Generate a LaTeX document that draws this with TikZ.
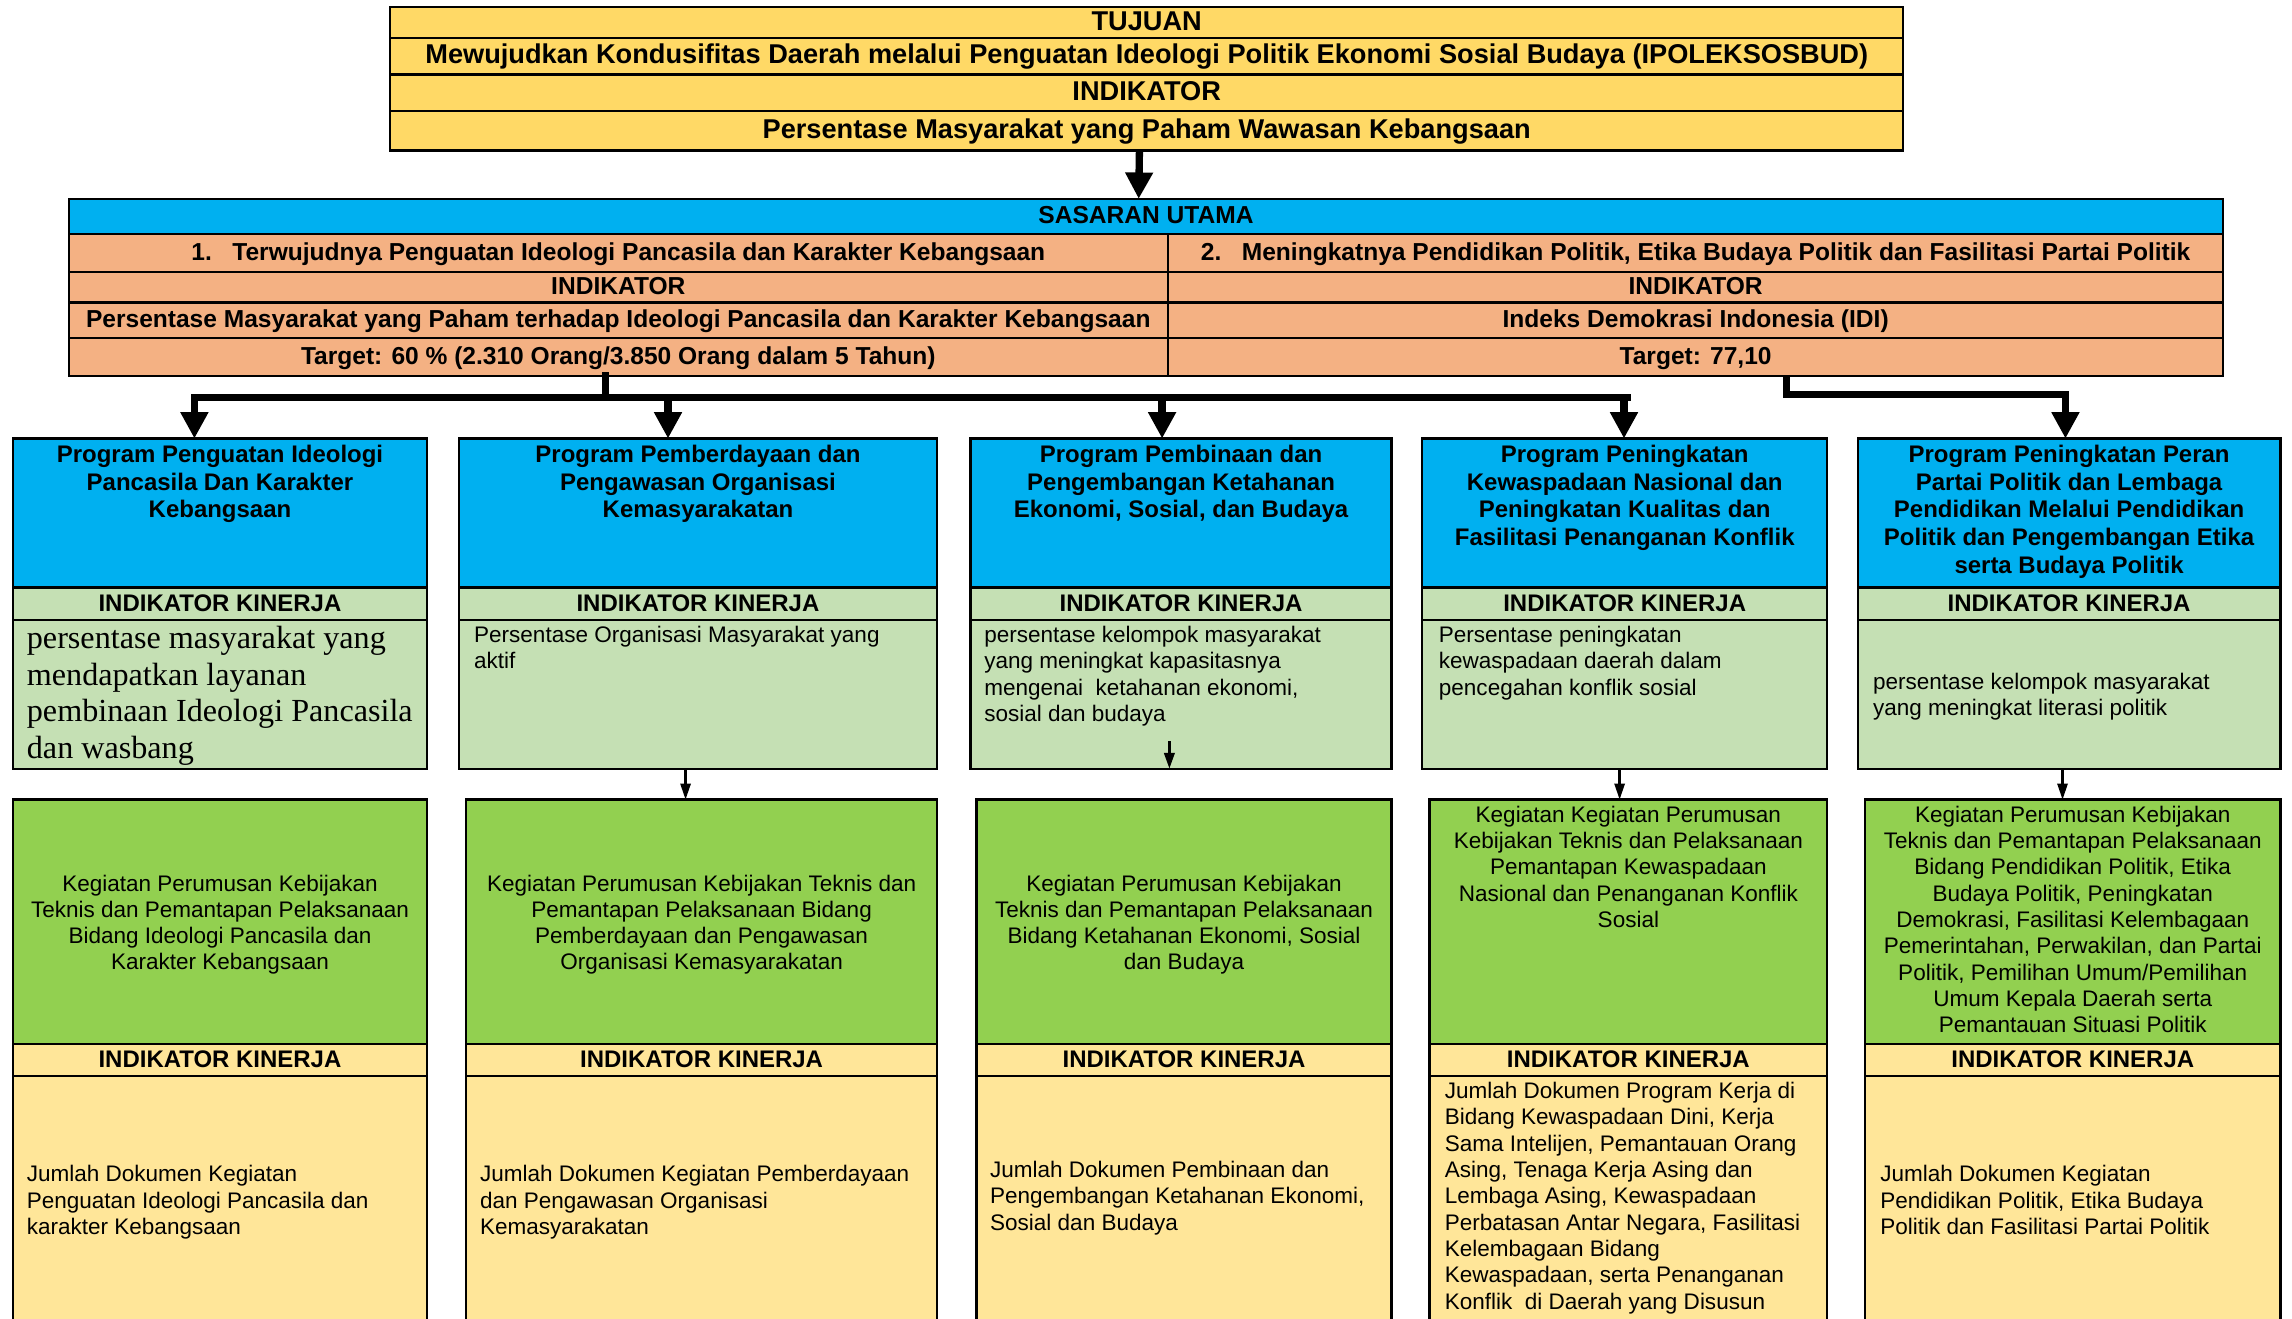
\documentclass[tikz,border=0pt]{standalone}
\usepackage{fontspec}
\setmainfont{Liberation Sans}
\newfontfamily\serifrm{Liberation Serif}
\usetikzlibrary{arrows.meta}
\definecolor{topY}{HTML}{FFD966}
\definecolor{skyB}{HTML}{00B0F0}
\definecolor{orgL}{HTML}{F4B183}
\definecolor{grnL}{HTML}{C5E0B4}
\definecolor{grnK}{HTML}{92D050}
\definecolor{yelL}{HTML}{FFE699}
\newcommand\bx[7]{\node[cell,#6, minimum width={(#4-#2)*0.5pt}, minimum height={(#5-#3)*0.5pt}, anchor=north west] (#1) at (#2,#3) {#7};}
\tikzset{
  cell/.style={draw=black, line width=0.8pt, inner sep=0pt, outer sep=0pt, text height=0.72em, text depth=0.2em},
  topf/.style={font={\fontsize{9.3}{11}\selectfont\bfseries}},
  sasf/.style={font={\fontsize{8.4}{9.5}\selectfont\bfseries}},
  hdrf/.style={font={\fontsize{8.2}{9.5}\selectfont\bfseries}},
  ttl/.style={font={\fontsize{8.2}{9.5}\selectfont\bfseries}, align=center, inner sep=0pt},
  bodyc/.style={font={\fontsize{7.7}{9}\selectfont}, align=center, inner sep=0pt},
  bodyl/.style={font={\fontsize{7.7}{9}\selectfont}, align=left, inner sep=0pt},
  serl/.style={font={\fontsize{11}{12.5}\selectfont\serifrm}, align=left, inner sep=0pt},
  bar/.style={line width=2.5pt, line cap=rect},
  bigarr/.style={line width=2.5pt, -{Triangle[width=9pt,length=9pt]}},
  smallarr/.style={line width=0.8pt, -{Triangle[width=3.5pt,length=5.5pt]}}
}
\begin{document}
\begin{tikzpicture}[x=0.5pt,y=-0.5pt]
\useasboundingbox (0,0) rectangle (1568,902);
% top box
\bx{t1}{267}{5}{1302}{26}{fill=topY,topf}{TUJUAN}
\bx{t2}{267}{26}{1302}{51}{fill=topY,topf}{Mewujudkan Kondusifitas Daerah melalui Penguatan Ideologi Politik Ekonomi Sosial Budaya (IPOLEKSOSBUD)}
\bx{t3}{267}{51}{1302}{76}{fill=topY,topf}{INDIKATOR}
\bx{t4}{267}{76}{1302}{103}{fill=topY,topf}{Persentase Masyarakat yang Paham Wawasan Kebangsaan}
% sasaran
\bx{sh}{47}{136}{1521}{160}{fill=skyB,sasf}{SASARAN UTAMA}
\bx{s1}{47}{160}{799}{186}{fill=orgL,sasf}{1.\ \ \ Terwujudnya Penguatan Ideologi Pancasila dan Karakter Kebangsaan}
\bx{s2}{799}{160}{1521}{186}{fill=orgL,sasf}{2.\ \ \ Meningkatnya Pendidikan Politik, Etika Budaya Politik dan Fasilitasi Partai Politik}
\bx{si1}{47}{186}{799}{207}{fill=orgL,sasf}{INDIKATOR}
\bx{si2}{799}{186}{1521}{207}{fill=orgL,sasf}{INDIKATOR}
\bx{sv1}{47}{207}{799}{231}{fill=orgL,sasf}{Persentase Masyarakat yang Paham terhadap Ideologi Pancasila dan Karakter Kebangsaan}
\bx{sv2}{799}{207}{1521}{231}{fill=orgL,sasf}{Indeks Demokrasi Indonesia (IDI)}
\bx{st1}{47}{231}{799}{257}{fill=orgL,sasf}{Target: 60 \% (2.310 Orang/3.850 Orang dalam 5 Tahun)}
\bx{st2}{799}{231}{1521}{257}{fill=orgL,sasf}{Target: 77,10}
% program boxes
\bx{p1}{9}{300}{292}{402}{fill=skyB}{}
\bx{p2}{314}{300}{641}{402}{fill=skyB}{}
\bx{p3}{664}{300}{952}{402}{fill=skyB}{}
\bx{p4}{973}{300}{1250}{402}{fill=skyB}{}
\bx{p5}{1271}{300}{1560}{402}{fill=skyB}{}
\bx{h1}{9}{402}{292}{424}{fill=grnL,hdrf}{INDIKATOR KINERJA}
\bx{h2}{314}{402}{641}{424}{fill=grnL,hdrf}{INDIKATOR KINERJA}
\bx{h3}{664}{402}{952}{424}{fill=grnL,hdrf}{INDIKATOR KINERJA}
\bx{h4}{973}{402}{1250}{424}{fill=grnL,hdrf}{INDIKATOR KINERJA}
\bx{h5}{1271}{402}{1560}{424}{fill=grnL,hdrf}{INDIKATOR KINERJA}
\bx{i1}{9}{424}{292}{526}{fill=grnL}{}
\bx{i2}{314}{424}{641}{526}{fill=grnL}{}
\bx{i3}{664}{424}{952}{526}{fill=grnL}{}
\bx{i4}{973}{424}{1250}{526}{fill=grnL}{}
\bx{i5}{1271}{424}{1560}{526}{fill=grnL}{}
% kegiatan boxes
\bx{k1}{9}{547}{292}{714}{fill=grnK}{}
\bx{k2}{319}{547}{641}{714}{fill=grnK}{}
\bx{k3}{668}{547}{952}{714}{fill=grnK}{}
\bx{k4}{978}{547}{1250}{714}{fill=grnK}{}
\bx{k5}{1276}{547}{1560}{714}{fill=grnK}{}
\bx{g1}{9}{714}{292}{736}{fill=yelL,hdrf}{INDIKATOR KINERJA}
\bx{g2}{319}{714}{641}{736}{fill=yelL,hdrf}{INDIKATOR KINERJA}
\bx{g3}{668}{714}{952}{736}{fill=yelL,hdrf}{INDIKATOR KINERJA}
\bx{g4}{978}{714}{1250}{736}{fill=yelL,hdrf}{INDIKATOR KINERJA}
\bx{g5}{1276}{714}{1560}{736}{fill=yelL,hdrf}{INDIKATOR KINERJA}
\bx{j1}{9}{736}{292}{915}{fill=yelL}{}
\bx{j2}{319}{736}{641}{915}{fill=yelL}{}
\bx{j3}{668}{736}{952}{915}{fill=yelL}{}
\bx{j4}{978}{736}{1250}{915}{fill=yelL}{}
\bx{j5}{1276}{736}{1560}{915}{fill=yelL}{}
% program titles
\node[ttl, anchor=north] (pt1) at (150.5,304) {Program Penguatan Ideologi\\Pancasila Dan Karakter\\Kebangsaan};
\node[ttl, anchor=north] (pt2) at (477.5,304) {Program Pemberdayaan dan\\Pengawasan Organisasi\\Kemasyarakatan};
\node[ttl, anchor=north] (pt3) at (808,304) {Program Pembinaan dan\\Pengembangan Ketahanan\\Ekonomi, Sosial, dan Budaya};
\node[ttl, anchor=north] (pt4) at (1111.5,304) {Program Peningkatan\\Kewaspadaan Nasional dan\\Peningkatan Kualitas dan\\Fasilitasi Penanganan Konflik};
\node[ttl, anchor=north] (pt5) at (1415.5,304) {Program Peningkatan Peran\\Partai Politik dan Lembaga\\Pendidikan Melalui Pendidikan\\Politik dan Pengembangan Etika\\serta Budaya Politik};
% indicator texts
\node[serl, anchor=north west] (iv1) at (18,428) {persentase masyarakat yang\\mendapatkan layanan\\pembinaan Ideologi Pancasila\\dan wasbang};
\node[bodyl, anchor=north west] (iv2) at (324,428) {Persentase Organisasi Masyarakat yang\\aktif};
\node[bodyl, anchor=north west] (iv3) at (673,428) {persentase kelompok masyarakat\\yang meningkat kapasitasnya\\mengenai\ \ ketahanan ekonomi,\\sosial dan budaya};
\node[bodyl, anchor=north west] (iv4) at (984,428) {Persentase peningkatan\\kewaspadaan daerah dalam\\pencegahan konflik sosial};
\node[bodyl, anchor=north west] (iv5) at (1281,460) {persentase kelompok masyarakat\\yang meningkat literasi politik};
% kegiatan texts
\node[bodyc, anchor=north] (kt1) at (150.5,598) {Kegiatan Perumusan Kebijakan\\Teknis dan Pemantapan Pelaksanaan\\Bidang Ideologi Pancasila dan\\Karakter Kebangsaan};
\node[bodyc, anchor=north] (kt2) at (480,598) {Kegiatan Perumusan Kebijakan Teknis dan\\Pemantapan Pelaksanaan Bidang\\Pemberdayaan dan Pengawasan\\Organisasi Kemasyarakatan};
\node[bodyc, anchor=north] (kt3) at (810,598) {Kegiatan Perumusan Kebijakan\\Teknis dan Pemantapan Pelaksanaan\\Bidang Ketahanan Ekonomi, Sosial\\dan Budaya};
\node[bodyc, anchor=north] (kt4) at (1114,551) {Kegiatan Kegiatan Perumusan\\Kebijakan Teknis dan Pelaksanaan\\Pemantapan Kewaspadaan\\Nasional dan Penanganan Konflik\\Sosial};
\node[bodyc, anchor=north] (kt5) at (1418,551) {Kegiatan Perumusan Kebijakan\\Teknis dan Pemantapan Pelaksanaan\\Bidang Pendidikan Politik, Etika\\Budaya Politik, Peningkatan\\Demokrasi, Fasilitasi Kelembagaan\\Pemerintahan, Perwakilan, dan Partai\\Politik, Pemilihan Umum/Pemilihan\\Umum Kepala Daerah serta\\Pemantauan Situasi Politik};
% lower indicator texts
\node[bodyl, anchor=north west] (jt1) at (18,797) {Jumlah Dokumen Kegiatan\\Penguatan Ideologi Pancasila dan\\karakter Kebangsaan};
\node[bodyl, anchor=north west] (jt2) at (328,797) {Jumlah Dokumen Kegiatan Pemberdayaan\\dan Pengawasan Organisasi\\Kemasyarakatan};
\node[bodyl, anchor=north west] (jt3) at (677,794) {Jumlah Dokumen Pembinaan dan\\Pengembangan Ketahanan Ekonomi,\\Sosial dan Budaya};
\node[bodyl, anchor=north west] (jt4) at (988,740) {Jumlah Dokumen Program Kerja di\\Bidang Kewaspadaan Dini, Kerja\\Sama Intelijen, Pemantauan Orang\\Asing, Tenaga Kerja Asing dan\\Lembaga Asing, Kewaspadaan\\Perbatasan Antar Negara, Fasilitasi\\Kelembagaan Bidang\\Kewaspadaan, serta Penanganan\\Konflik\ \ di Daerah yang Disusun};
\node[bodyl, anchor=north west] (jt5) at (1286,797) {Jumlah Dokumen Kegiatan\\Pendidikan Politik, Etika Budaya\\Politik dan Fasilitasi Partai Politik};
% connectors
\draw[bigarr] ([xshift=-2.5pt]t4.south) -- ([xshift=-2.5pt]sh.north);
\coordinate (jL) at (414,272);
\coordinate (b1) at (133,272);
\coordinate (b2) at (457,272);
\coordinate (b3) at (795,272);
\coordinate (b4) at (1111,272);
\coordinate (jR) at (1222,270);
\coordinate (b5) at (1413,270);
\draw[bar] (st1.south -| jL) -- (jL);
\draw[bar] (b1) -- (1113,272);
\draw[bigarr] (b1) -- (b1 |- p1.north);
\draw[bigarr] (b2) -- (b2 |- p2.north);
\draw[bigarr] (b3) -- (b3 |- p3.north);
\draw[bigarr] (b4) -- (b4 |- p4.north);
\draw[bigarr] (st2.south -| jR) |- (b5) -- (b5 |- p5.north);
\coordinate (c2) at (469,0);
\coordinate (c3) at (800,507);
\coordinate (c4) at (1108,0);
\coordinate (c5) at (1411,0);
\draw[smallarr] (i2.south -| c2) -- (k2.north -| c2);
\draw[smallarr, line width=1.1pt] (c3) -- (c3 |- i3.south);
\draw[smallarr] (i4.south -| c4) -- (k4.north -| c4);
\draw[smallarr] (i5.south -| c5) -- (k5.north -| c5);
\end{tikzpicture}
\end{document}
